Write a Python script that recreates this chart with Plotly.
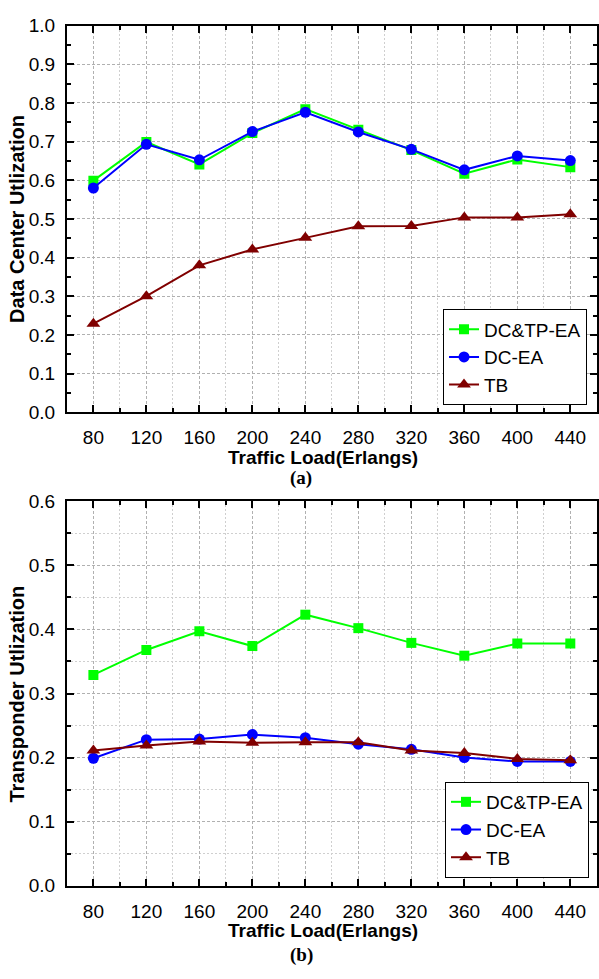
import plotly.graph_objects as go

loads = [80, 120, 160, 200, 240, 280, 320, 360, 400, 440]

dc_util_dctp = [0.599, 0.699, 0.641, 0.722, 0.784, 0.731, 0.678, 0.617, 0.654, 0.634]
dc_util_dc = [0.580, 0.693, 0.653, 0.726, 0.776, 0.725, 0.680, 0.627, 0.663, 0.651]
dc_util_tb = [0.229, 0.300, 0.380, 0.421, 0.451, 0.481, 0.482, 0.504, 0.504, 0.512]

tp_util_dctp = [0.329, 0.368, 0.397, 0.374, 0.423, 0.402, 0.379, 0.359, 0.378, 0.378]
tp_util_dc = [0.199, 0.228, 0.229, 0.236, 0.231, 0.221, 0.213, 0.200, 0.194, 0.194]
tp_util_tb = [0.211, 0.219, 0.225, 0.223, 0.224, 0.224, 0.211, 0.207, 0.198, 0.196]

series_names = ["DC&TP-EA", "DC-EA", "TB"]
colors = ["#00FF00", "#0000FF", "#800000"]
symbols = ["square", "circle", "triangle-up"]
msizes = [10, 11, 12]

W, H = 599, 979
FONT = "Liberation Sans, Arial, sans-serif"
SERIF = "Liberation Serif, Times New Roman, serif"

fig = go.Figure()

for i, ys in enumerate([dc_util_dctp, dc_util_dc, dc_util_tb]):
    fig.add_trace(go.Scatter(
        x=loads, y=ys, name=series_names[i], mode="lines+markers",
        line=dict(color=colors[i], width=2),
        marker=dict(symbol=symbols[i], size=msizes[i], color=colors[i]),
        xaxis="x", yaxis="y", legend="legend",
    ))

for i, ys in enumerate([tp_util_dctp, tp_util_dc, tp_util_tb]):
    fig.add_trace(go.Scatter(
        x=loads, y=ys, name=series_names[i], mode="lines+markers",
        line=dict(color=colors[i], width=2),
        marker=dict(symbol=symbols[i], size=msizes[i], color=colors[i]),
        xaxis="x2", yaxis="y2", legend="legend2",
    ))

x_left = 67 / W
top1, bot1 = 1 - 16 / H, 1 - 411 / H
top2, bot2 = 1 - 502 / H, 1 - 895 / H

major_grid = dict(showgrid=True, gridcolor="#b0b0b0", griddash="3px,2px", gridwidth=1)
minor_x = [100, 140, 180, 220, 260, 300, 340, 380, 420]


def xaxis_cfg(anchor):
    return dict(
        domain=[x_left, 0.998], range=[60, 460], anchor=anchor,
        tickmode="array", tickvals=loads, ticktext=[str(v) for v in loads],
        ticks="inside", ticklen=7, tickwidth=1.5, tickcolor="black",
        showline=True, linecolor="black", linewidth=2, mirror="allticks",
        zeroline=False, ticklabelstandoff=7,
        tickfont=dict(family=FONT, size=19, color="black"),
        minor=dict(tickmode="array", tickvals=minor_x,
                   ticks="inside", ticklen=4, tickwidth=1.5, tickcolor="black",
                   showgrid=True, gridcolor="#cfcfcf", griddash="2px,2px", gridwidth=1),
        **major_grid,
    )


def yaxis_cfg(anchor, domain, rng, minor_grid):
    return dict(
        domain=domain, range=rng, anchor=anchor,
        tickmode="linear", tick0=0, dtick=0.1, tickformat=".1f",
        ticks="inside", ticklen=7, tickwidth=1.5, tickcolor="black",
        showline=True, linecolor="black", linewidth=2, mirror="allticks",
        zeroline=False, ticklabelstandoff=6,
        tickfont=dict(family=FONT, size=19, color="black"),
        minor=dict(dtick=0.05, ticks="inside", ticklen=4, tickwidth=1.5, tickcolor="black",
                   showgrid=minor_grid, gridcolor="#cfcfcf", griddash="2px,2px", gridwidth=1),
        **major_grid,
    )


legend_common = dict(
    xanchor="right", yanchor="bottom",
    bgcolor="white", bordercolor="black", borderwidth=1,
    font=dict(family=FONT, size=19, color="black"),
    tracegroupgap=0, itemwidth=30,
)

fig.update_layout(
    width=W, height=H,
    margin=dict(l=0, r=0, t=0, b=0),
    paper_bgcolor="white", plot_bgcolor="white",
    font=dict(family=FONT, color="black"),
    xaxis=xaxis_cfg("y"),
    yaxis=yaxis_cfg("x", [bot1, top1], [0, 1.0], False),
    xaxis2=xaxis_cfg("y2"),
    yaxis2=yaxis_cfg("x2", [bot2, top2], [0, 0.6], True),
    legend=dict(x=588 / W, y=1 - 404 / H, **legend_common),
    legend2=dict(x=590 / W, y=1 - 887 / H, **legend_common),
    showlegend=True,
)

def ann(text, x, y, family=FONT, size=19, angle=0):
    return dict(text=text, x=x / W, y=1 - y / H, xref="paper", yref="paper",
                xanchor="center", yanchor="middle", showarrow=False, textangle=angle,
                font=dict(family=family, size=size, color="black"))

annotations = [
    ann("<b>Traffic Load(Erlangs)</b>", 324, 457),
    ann("<b>(a)</b>", 302, 478, family=SERIF, size=19),
    ann("<b>Data Center Utlization</b>", 17, (16 + 411) / 2, size=20, angle=-90),
    ann("<b>Traffic Load(Erlangs)</b>", 324, 941),
    ann("<b>(b)</b>", 302, 966, family=SERIF, size=19),
    ann("<b>Transponder Utlization</b>", 17, (502 + 895) / 2, size=20, angle=-90),
]
fig.update_layout(annotations=annotations)

fig.write_html("out.html")
